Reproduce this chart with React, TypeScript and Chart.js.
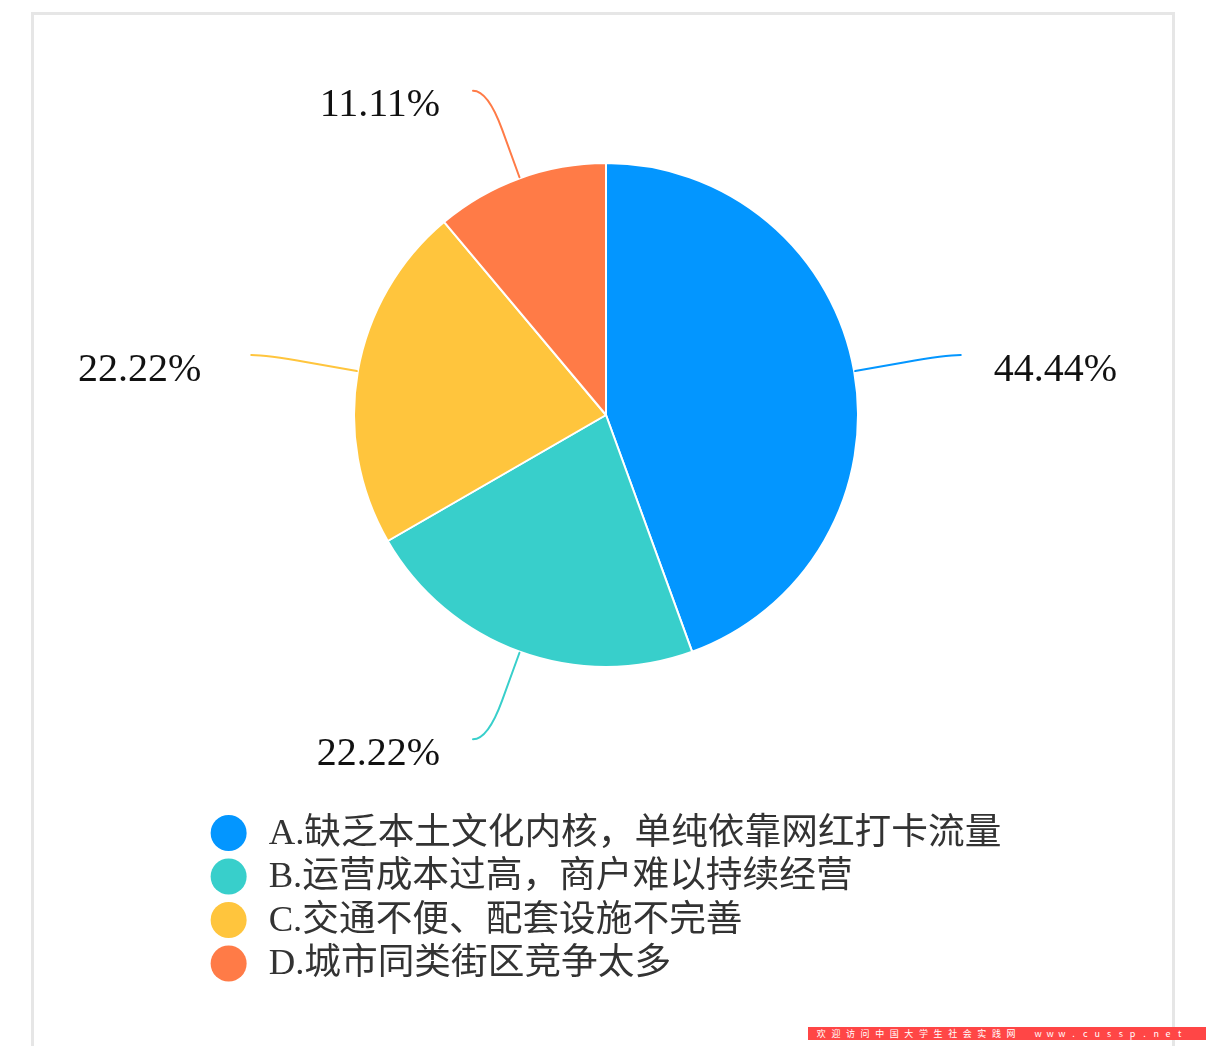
import React, { useEffect, useRef } from "react";
import { Chart, registerables } from "chart.js";

Chart.register(...registerables);

const categories = [
  "A.缺乏本土文化内核，单纯依靠网红打卡流量",
  "B.运营成本过高，商户难以持续经营",
  "C.交通不便、配套设施不完善",
  "D.城市同类街区竞争太多",
];
const values = [44.44, 22.22, 22.22, 11.11];
const colors = ["#0396FF", "#38CFCB", "#FFC53D", "#FF7B47"];
const watermarkCn = "欢迎访问中国大学生社会实践网";
const watermarkEn = "www.cussp.net";

const labelPlugin = {
  id: "outLabels",
  afterDatasetsDraw(chart: any) {
    const ctx = chart.ctx;
    const meta = chart.getDatasetMeta(0);
    meta.data.forEach((arc: any, i: number) => {
      const { x, y, startAngle, endAngle, outerRadius } = arc.getProps(
        ["x", "y", "startAngle", "endAngle", "outerRadius"],
        true
      );
      const mid = (startAngle + endAngle) / 2;
      const cos = Math.cos(mid);
      const sin = Math.sin(mid);
      const r = outerRadius + 1;
      const ex = x + cos * r;
      const ey = y + sin * r;
      const L1 = 92;
      const L2 = 15;
      const px = ex + cos * L1;
      const py = ey + sin * L1;
      const dir = cos >= 0 ? 1 : -1;
      const qx = px + dir * L2;
      const qy = py;
      const sx = ex + cos * L1 * 0.55;
      const sy = ey + sin * L1 * 0.55;
      ctx.save();
      ctx.strokeStyle = colors[i];
      ctx.lineWidth = 2;
      ctx.lineCap = "round";
      ctx.beginPath();
      ctx.moveTo(ex, ey);
      ctx.lineTo(sx, sy);
      ctx.quadraticCurveTo(px, py, qx, qy);
      ctx.stroke();
      ctx.font = '40px "Liberation Serif", "Times New Roman", serif';
      ctx.fillStyle = "#111";
      ctx.textBaseline = "middle";
      ctx.textAlign = dir > 0 ? "left" : "right";
      const gap = Math.abs(sin) < 0.5 && dir < 0 ? 50 : 33;
      ctx.fillText(values[i].toFixed(2) + "%", qx + dir * gap, qy + 15);
      ctx.restore();
    });
  },
};

const legendPlugin = {
  id: "columnLegend",
  afterDraw(chart: any) {
    const ctx = chart.ctx;
    ctx.save();
    ctx.font = '36.7px "Liberation Serif", "Noto Sans CJK SC", sans-serif';
    const widths = categories.map((c) => ctx.measureText(c).width);
    const maxW = Math.max(...widths);
    const total = 58 + maxW;
    const cx = (chart.chartArea.left + chart.chartArea.right) / 2;
    const left = cx - total / 2;
    const top = 833;
    categories.forEach((c, i) => {
      const yy = top + i * 43.5;
      ctx.fillStyle = colors[i];
      ctx.beginPath();
      ctx.arc(left + 18, yy, 18, 0, Math.PI * 2);
      ctx.fill();
      ctx.fillStyle = "#333";
      ctx.textBaseline = "middle";
      ctx.textAlign = "left";
      ctx.fillText(c, left + 58, yy + 1);
    });
    ctx.restore();
  },
};

export default function App() {
  const ref = useRef<HTMLCanvasElement | null>(null);

  useEffect(() => {
    if (!ref.current) return;
    const chart = new Chart(ref.current, {
      type: "pie",
      data: {
        labels: categories,
        datasets: [
          {
            data: values,
            backgroundColor: colors,
            borderColor: "#ffffff",
            borderWidth: 2,
          },
        ],
      },
      options: {
        responsive: false,
        animation: false,
        layout: { padding: { left: 303, right: 297, top: 162, bottom: 378 } },
        plugins: {
          legend: { display: false },
          tooltip: { enabled: false },
        },
      },
      plugins: [labelPlugin, legendPlugin],
    });
    return () => chart.destroy();
  }, []);

  const cell = (ch: string, w: number, k: string) => (
    <span key={k} style={{ display: "inline-block", width: w, textAlign: "center" }}>
      {ch}
    </span>
  );

  return (
    <div>
      <div
        style={{
          position: "fixed",
          left: 31,
          top: 12,
          width: 1138,
          height: 1100,
          border: "3px solid #e6e6e6",
          background: "#fff",
        }}
      />
      <canvas
        ref={ref}
        width={1206}
        height={1046}
        style={{ position: "fixed", left: 0, top: 0, width: 1206, height: 1046, display: "block" }}
      />
      <div
        style={{
          position: "fixed",
          left: 808,
          top: 1027,
          width: 398,
          height: 13,
          background: "#ff4646",
          color: "#fff",
          fontSize: 9,
          lineHeight: "13px",
          fontFamily: '"Noto Sans CJK SC", sans-serif',
          whiteSpace: "nowrap",
          overflow: "hidden",
          paddingLeft: 6,
          boxSizing: "border-box",
        }}
      >
        {watermarkCn.split("").map((ch, i) => cell(ch, 14.6, "c" + i))}
        <span style={{ display: "inline-block", width: 14 }} />
        {watermarkEn.split("").map((ch, i) => cell(ch, 11.8, "e" + i))}
      </div>
    </div>
  );
}
